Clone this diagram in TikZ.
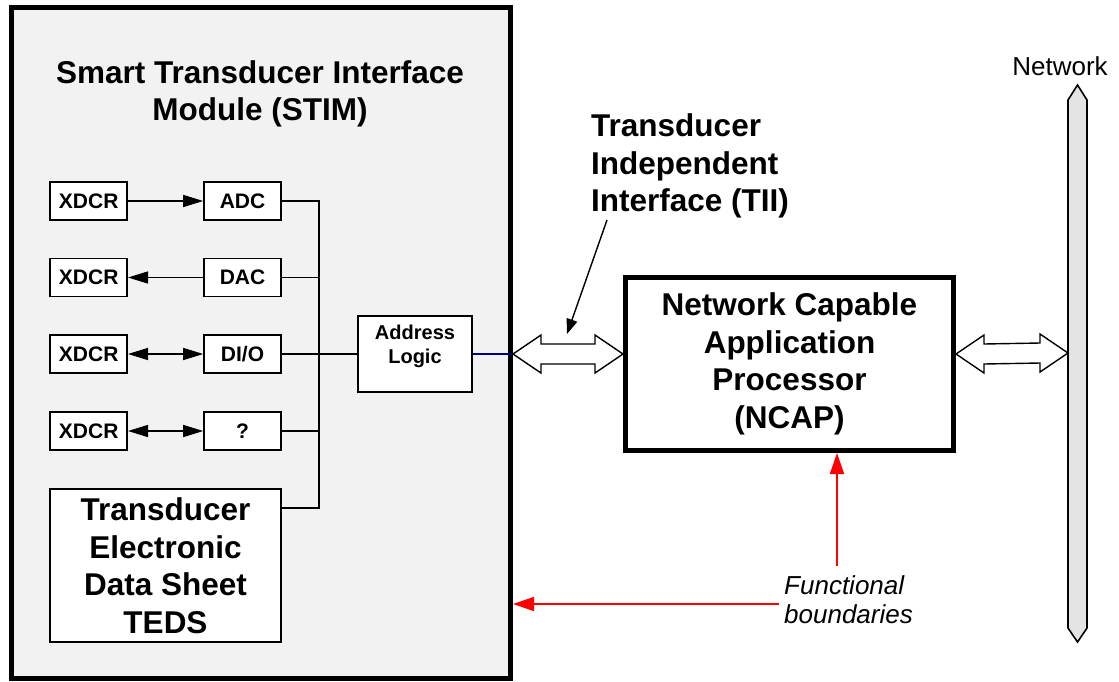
\documentclass[tikz,border=0pt]{standalone}
\usepackage{fontspec}
\setmainfont{Liberation Sans}
\usetikzlibrary{arrows.meta,calc}

\definecolor{stimgray}{HTML}{F2F2F2}
\definecolor{busgray}{HTML}{E4E4E4}
\definecolor{linkblue}{HTML}{000080}

\begin{document}
\begin{tikzpicture}[x=1pt,y=-1pt,
  smallbox/.style={draw,line width=1.6pt,fill=white,minimum width=77pt,minimum height=38pt,inner sep=0pt,font=\fontsize{21}{24}\selectfont\bfseries},
  bigtext/.style={align=center,font=\fontsize{31.5}{37.5}\selectfont\bfseries},
  wire/.style={line width=1.4pt},
  onetip/.style={line width=1.4pt,-{Triangle[length=20pt,width=12pt]}},
  twotip/.style={line width=1.4pt,{Triangle[length=20pt,width=12pt]}-{Triangle[length=20pt,width=12pt]}},
  hollow/.style={draw,line width=1.4pt,fill=white},
  redarrow/.style={red,line width=1.6pt,-{Triangle[length=21pt,width=14pt]}}]
  \useasboundingbox (0,0) rectangle (1119,681);
  % STIM block
  \node[draw,line width=5pt,fill=stimgray,minimum width=499.5pt,minimum height=670.5pt,inner sep=0pt] (stim) at (260.75,342.75) {};
  \node[bigtext] (stimtitle) at (260,94) {Smart Transducer Interface\\Module (STIM)};
  % transducers and converters
  \node[smallbox] (xdcra) at (88.7,201) {XDCR};
  \node[smallbox] (adc) at (242.5,201) {ADC};
  \node[smallbox] (xdcrb) at (88.7,277.5) {XDCR};
  \node[smallbox] (dac) at (242.5,277.5) {DAC};
  \node[smallbox] (xdcrc) at (88.7,354) {XDCR};
  \node[smallbox] (dio) at (242.5,354) {DI/O};
  \node[smallbox] (xdcrd) at (88.7,431) {XDCR};
  \node[smallbox] (qbox) at (242.5,431) {?};
  \draw[onetip] (xdcra.east) -- (adc.west);
  \draw[onetip] (dac.west) -- (xdcrb.east);
  \draw[twotip] (xdcrc.east) -- (dio.west);
  \draw[twotip] (xdcrd.east) -- (qbox.west);
  % TEDS
  \node[draw,line width=1.6pt,fill=white,minimum width=231.4pt,minimum height=153pt,inner sep=0pt,bigtext] (teds) at (165.5,565.5) {Transducer\\Electronic\\Data Sheet\\TEDS};
  % address logic
  \node[smallbox,minimum width=114pt,minimum height=76pt] (alog) at (415,354) {};
  \node[align=center,font=\fontsize{20}{24}\selectfont\bfseries] (alogtext) at (415,346) {Address\\Logic};
  % bus inside the STIM
  \coordinate (bustop) at (319,201);
  \coordinate (busbot) at (319,508);
  \draw[wire] (adc.east) -- (bustop) -- (busbot) -- (busbot -| teds.east);
  \draw[wire] (dac.east) -- (dac.east -| bustop);
  \draw[wire] (qbox.east) -- (qbox.east -| bustop);
  \draw[wire] (dio.east) -- (alog.west);
  \draw[wire,linkblue] (alog.east) -- (alog.east -| stim.east);
  % NCAP
  \node[draw,line width=5pt,fill=white,minimum width=328pt,minimum height=173pt,inner sep=0pt,bigtext] (ncap) at (789.5,364) {Network Capable\\Application\\Processor\\(NCAP)};
  % TII arrow
  \coordinate (tiia) at (alog.east -| stim.east);
  \coordinate (tiib) at (alog.east -| ncap.west);
  \draw[hollow] (tiia) -- ++(28,-19) -- ++(0,9) -- ($(tiib)+(-28,-10)$) -- ++(0,-9) -- (tiib)
    -- ++(-28,19) -- ++(0,-9) -- ($(tiia)+(28,10)$) -- ++(0,9) -- cycle;
  \node[bigtext,align=left,anchor=west,inner sep=0pt] (tii) at (591,166) {Transducer\\Independent\\Interface (TII)};
  \coordinate (tiifrom) at (607,220);
  \coordinate (tiito) at (567,334);
  \draw[line width=1.4pt,-{Triangle[length=15pt,width=11pt]}] (tiifrom) -- (tiito);
  % network bus
  \draw[line width=1.6pt,fill=busgray] (1068,100) -- (1077.5,85) -- (1087,100) -- (1087,628) -- (1077.5,642) -- (1068,628) -- cycle;
  \node[font=\fontsize{26}{30}\selectfont] (netlabel) at (1060,66) {Network};
  \coordinate (neta) at (ncap.east |- tiia);
  \coordinate (netb) at (1068,353);
  \draw[hollow] (neta) -- ++(28,-19) -- ++(0,9) -- ($(netb)+(-28,-10)$) -- ++(0,-9) -- (netb)
    -- ++(-28,19) -- ++(0,-9) -- ($(neta)+(28,10)$) -- ++(0,9) -- cycle;
  % functional boundaries
  \node[align=left,anchor=north west,inner sep=0pt,font=\fontsize{26}{29}\selectfont\itshape] (fb) at (784,575) {Functional\\boundaries};
  \coordinate (fbup) at (837,566);
  \coordinate (fbleft) at (779,604);
  \draw[redarrow] (fbup) -- (fbup |- ncap.south);
  \draw[redarrow] (fbleft) -- (fbleft -| stim.east);
\end{tikzpicture}
\end{document}
